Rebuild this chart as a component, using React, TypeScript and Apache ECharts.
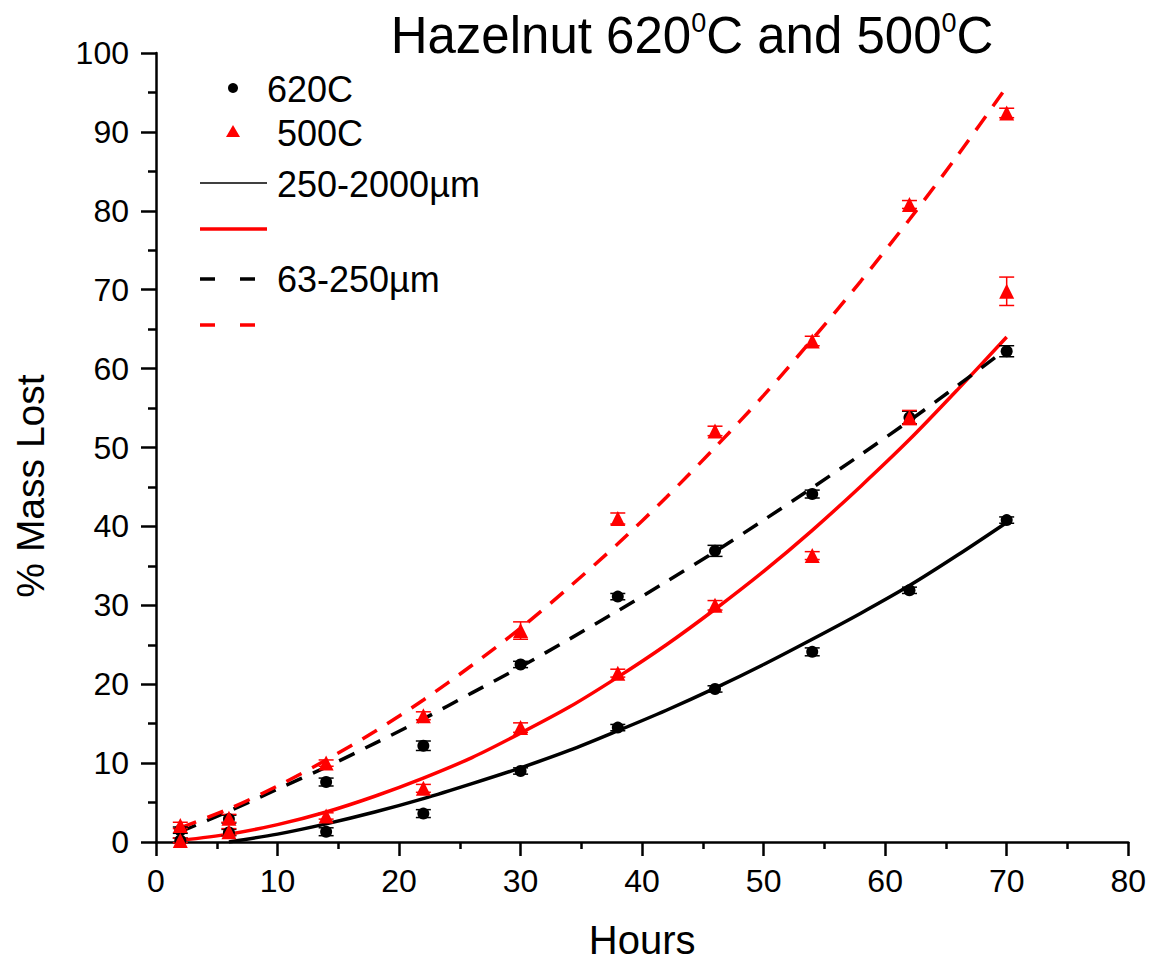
import React, { useEffect, useRef } from "react";
import * as echarts from "echarts";

const hours = [2, 6, 14, 22, 30, 38, 46, 54, 62, 70];

// measured points (% mass lost)
const black250_2000 = [0.2, 1.2, 1.3, 3.6, 9.0, 14.5, 19.4, 24.1, 31.9, 40.8];
const black63_250 = [1.5, 2.9, 7.6, 12.2, 22.5, 31.1, 36.9, 44.1, 53.8, 62.2];
const red250_2000 = [0.2, 1.3, 3.3, 6.8, 14.5, 21.4, 30.0, 36.3, 53.8, 69.8];
const red63_250 = [2.1, 3.0, 10.0, 16.0, 26.8, 41.0, 52.1, 63.5, 80.8, 92.4];

// error bar half widths
const errBlack250_2000 = [0.3, 0.4, 0.5, 0.5, 0.4, 0.4, 0.4, 0.5, 0.4, 0.4];
const errBlack63_250 = [0.4, 0.5, 0.5, 0.6, 0.4, 0.4, 0.7, 0.5, 0.8, 0.7];
const errRed250_2000 = [0.3, 0.4, 0.4, 0.5, 0.6, 0.5, 0.6, 0.5, 0.9, 1.8];
const errRed63_250 = [0.4, 0.5, 0.4, 0.5, 1.1, 0.7, 0.6, 0.6, 0.5, 0.6];

// fitted curves
const fitHoursBlackSolid = [6, 10, 14, 18, 22, 26, 30, 34, 38, 42, 46, 50, 54, 58, 62, 66, 70];
const fitBlackSolid = [0, 1.0, 2.3, 3.8, 5.5, 7.4, 9.4, 11.6, 14.1, 16.7, 19.5, 22.5, 25.7, 29.0, 32.5, 36.4, 40.5];
const fitHours = [2, 6, 10, 14, 18, 22, 26, 30, 34, 38, 42, 46, 50, 54, 58, 62, 66, 70];
const fitRedSolid = [0.2, 1.0, 2.2, 3.8, 5.8, 8.1, 10.7, 13.8, 17.1, 20.9, 25.0, 29.5, 34.3, 39.5, 45.1, 51.0, 57.4, 64.0];
const fitBlackDashed = [1.3, 3.9, 6.7, 9.5, 12.5, 15.6, 18.9, 22.2, 25.7, 29.3, 33.0, 36.8, 40.8, 44.9, 49.1, 53.4, 57.9, 62.5];
const fitRedDashed = [1.8, 4.2, 7.1, 10.4, 14.0, 18.0, 22.4, 27.1, 32.3, 37.8, 43.7, 50.0, 56.6, 63.7, 71.1, 78.9, 87.1, 95.7];

const FONT = "Liberation Sans, Arial, sans-serif";

function pairs(xs: number[], ys: number[]) {
  return xs.map((x, i) => [x, ys[i]]);
}

function errData(ys: number[], es: number[]) {
  return hours.map((x, i) => [x, ys[i] - es[i], ys[i] + es[i]]);
}

function errSeries(ys: number[], es: number[], color: string) {
  return {
    type: "custom",
    silent: true,
    z: 3,
    data: errData(ys, es),
    renderItem: (params: any, api: any) => {
      const x = api.value(0);
      const lo = api.coord([x, api.value(1)]);
      const hi = api.coord([x, api.value(2)]);
      const half = 7.5;
      const style = { stroke: color, lineWidth: 1.5 };
      return {
        type: "group",
        children: [
          { type: "line", shape: { x1: lo[0], y1: lo[1], x2: hi[0], y2: hi[1] }, style },
          { type: "line", shape: { x1: lo[0] - half, y1: lo[1], x2: lo[0] + half, y2: lo[1] }, style },
          { type: "line", shape: { x1: hi[0] - half, y1: hi[1], x2: hi[0] + half, y2: hi[1] }, style },
        ],
      };
    },
  };
}

function lineSeries(xs: number[], ys: number[], color: string, dashed: boolean) {
  return {
    type: "line",
    data: pairs(xs, ys),
    smooth: 0.3,
    showSymbol: false,
    symbol: "none",
    z: 2,
    lineStyle: dashed
      ? { color, width: 3.5, type: [17, 12] }
      : { color, width: 3.5 },
  };
}

function scatterSeries(ys: number[], color: string, symbol: string, size: number) {
  return {
    type: "scatter",
    data: pairs(hours, ys),
    symbol,
    symbolSize: size,
    z: 4,
    itemStyle: { color, opacity: 1 },
  };
}

export default function App() {
  const ref = useRef<HTMLDivElement>(null);
  useEffect(() => {
    if (!ref.current) return;
    const chart = echarts.init(ref.current, null, { renderer: "svg" });
    const axisLine = { show: true, onZero: false, lineStyle: { color: "#000", width: 2.5 } };
    const legendText = (text: string, x: number, y: number) => ({
      type: "text",
      x,
      y,
      style: { text, fontSize: 36, fontFamily: FONT, fill: "#000", verticalAlign: "middle" },
    });
    chart.setOption({
      animation: false,
      backgroundColor: "#fff",
      textStyle: { fontFamily: FONT },
      grid: { left: 156, right: 19, top: 53, bottom: 121 },
      xAxis: {
        type: "value",
        min: 0,
        max: 80,
        interval: 10,
        name: "Hours",
        nameLocation: "middle",
        nameGap: 78,
        nameTextStyle: { fontSize: 40, color: "#000", fontFamily: FONT },
        axisLine,
        axisTick: { show: true, inside: false, length: 14, lineStyle: { color: "#000", width: 2.5 } },
        minorTick: { show: true, splitNumber: 2, length: 7, lineStyle: { color: "#000", width: 2.5 } },
        axisLabel: { fontSize: 32, color: "#000", margin: 23, fontFamily: FONT },
        splitLine: { show: false },
      },
      yAxis: {
        type: "value",
        min: 0,
        max: 100,
        interval: 10,
        axisLine,
        axisTick: { show: true, inside: false, length: 15, lineStyle: { color: "#000", width: 2.5 } },
        minorTick: { show: true, splitNumber: 2, length: 8, lineStyle: { color: "#000", width: 2.5 } },
        axisLabel: { fontSize: 32, color: "#000", margin: 27, fontFamily: FONT },
        splitLine: { show: false },
      },
      series: [
        lineSeries(fitHoursBlackSolid, fitBlackSolid, "#000", false),
        lineSeries(fitHours, fitRedSolid, "#ff0000", false),
        lineSeries(fitHours, fitBlackDashed, "#000", true),
        lineSeries(fitHours, fitRedDashed, "#ff0000", true),
        errSeries(black250_2000, errBlack250_2000, "#000"),
        errSeries(black63_250, errBlack63_250, "#000"),
        errSeries(red250_2000, errRed250_2000, "#ff0000"),
        errSeries(red63_250, errRed63_250, "#ff0000"),
        scatterSeries(black250_2000, "#000", "circle", 12),
        scatterSeries(black63_250, "#000", "circle", 12),
        scatterSeries(red250_2000, "#ff0000", "triangle", 15),
        scatterSeries(red63_250, "#ff0000", "triangle", 15),
      ],
      graphic: [
        {
          type: "text",
          x: 692,
          y: 35,
          style: {
            text: "Hazelnut 620{s|0}C and 500{s|0}C",
            fontSize: 51,
            fontFamily: FONT,
            fill: "#000",
            align: "center",
            verticalAlign: "middle",
            rich: {
              s: { fontSize: 27, fontFamily: FONT, fill: "#000", verticalAlign: "top", lineHeight: 50 },
            },
          },
        },
        {
          type: "text",
          x: 30,
          y: 486,
          rotation: Math.PI / 2,
          style: {
            text: "% Mass Lost",
            fontSize: 39,
            fontFamily: FONT,
            fill: "#000",
            align: "center",
            verticalAlign: "middle",
          },
        },
        // legend
        { type: "circle", shape: { cx: 233, cy: 88, r: 5 }, style: { fill: "#000" } },
        legendText("620C", 267, 89),
        { type: "polygon", shape: { points: [[233, 125], [240, 137], [226, 137]] }, style: { fill: "#ff0000" } },
        legendText("500C", 277, 133),
        { type: "line", shape: { x1: 200, y1: 183, x2: 267, y2: 183 }, style: { stroke: "#000", lineWidth: 1.5 } },
        legendText("250-2000µm", 277, 184),
        { type: "line", shape: { x1: 200, y1: 229, x2: 267, y2: 229 }, style: { stroke: "#ff0000", lineWidth: 3.5 } },
        { type: "line", shape: { x1: 200, y1: 279, x2: 255, y2: 279 }, style: { stroke: "#000", lineWidth: 3.5, lineDash: [15, 25] } },
        legendText("63-250µm", 277, 279),
        { type: "line", shape: { x1: 200, y1: 325, x2: 255, y2: 325 }, style: { stroke: "#ff0000", lineWidth: 3.5, lineDash: [15, 25] } },
      ],
    });
    return () => chart.dispose();
  }, []);
  return <div ref={ref} style={{ width: 1149, height: 965, position: "absolute", left: 0, top: 0 }} />;
}
